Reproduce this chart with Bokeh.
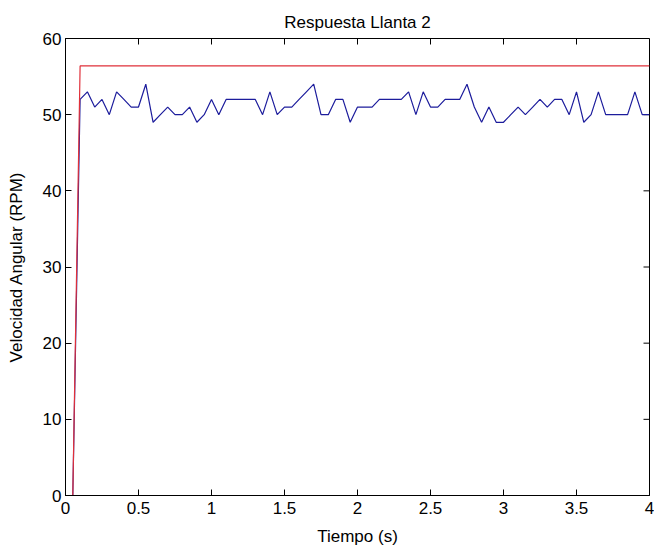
import math
from bokeh.plotting import figure
from bokeh.models import Range1d, FixedTicker, PrintfTickFormatter
from bokeh.embed import file_html
from bokeh.resources import INLINE

# ---- data ----
t_s = [0.00, 0.05, 0.10, 0.15, 0.20, 0.25, 0.30, 0.35, 0.40, 0.45, 0.50, 0.55,
       0.60, 0.65, 0.70, 0.75, 0.80, 0.85, 0.90, 0.95, 1.00, 1.05,
       1.10, 1.15, 1.20, 1.25, 1.30, 1.35, 1.40, 1.45, 1.50, 1.55,
       1.60, 1.65, 1.70, 1.75, 1.80, 1.85, 1.90, 1.95, 2.00, 2.05,
       2.10, 2.15, 2.20, 2.25, 2.30, 2.35, 2.40, 2.45, 2.50, 2.55,
       2.60, 2.65, 2.70, 2.75, 2.80, 2.85, 2.90, 2.95, 3.00, 3.05,
       3.10, 3.15, 3.20, 3.25, 3.30, 3.35, 3.40, 3.45, 3.50, 3.55,
       3.60, 3.65, 3.70, 3.75, 3.80, 3.85, 3.90, 3.95, 4.00]
rpm_measured = [0, 0,
                52, 53, 51, 52, 50, 53, 52, 51, 51, 54,
                49, 50, 51, 50, 50, 51, 49, 50, 52, 50,
                52, 52, 52, 52, 52, 50, 53, 50, 51, 51,
                52, 53, 54, 50, 50, 52, 52, 49, 51, 51,
                51, 52, 52, 52, 52, 53, 50, 53, 51, 51,
                52, 52, 52, 54, 51, 49, 51, 49, 49, 50,
                51, 50, 51, 52, 51, 52, 52, 50, 53, 49,
                50, 53, 50, 50, 50, 50, 53, 50, 50]
ref_t = [0.00, 0.05, 0.10, 4.00]
ref_rpm = [0, 0, 56.4, 56.4]

x_ticks = [0, 0.5, 1, 1.5, 2, 2.5, 3, 3.5, 4]
y_ticks = [0, 10, 20, 30, 40, 50, 60]

title_text = "Respuesta Llanta 2"
x_label = "Tiempo (s)"
y_label = "Velocidad Angular (RPM)"

FONT = "Liberation Sans"
FS = "17px"
X_MIN, X_MAX = 0, 4
Y_MIN, Y_MAX = 0, 60

p = figure(width=654, height=551, output_backend="svg", toolbar_location=None,
           x_range=Range1d(X_MIN, X_MAX), y_range=Range1d(Y_MIN, Y_MAX),
           min_border_left=65, min_border_right=5, min_border_top=38, min_border_bottom=56,
           background_fill_color="white", border_fill_color="white")

p.title.text = title_text
p.title.align = "center"
p.title.text_font = FONT
p.title.text_font_size = FS
p.title.text_font_style = "normal"
p.title.text_color = "black"
p.title.standoff = 14

p.xgrid.visible = False
p.ygrid.visible = False
p.outline_line_color = "black"
p.outline_line_width = 1

def style_axis(ax):
    ax.axis_line_color = "black"
    ax.major_tick_line_color = "black"
    ax.major_tick_in = 6
    ax.major_tick_out = 0
    ax.minor_tick_line_color = None
    ax.major_label_text_font = FONT
    ax.major_label_text_font_size = FS
    ax.major_label_text_color = "black"
    ax.axis_label_text_font = FONT
    ax.axis_label_text_font_size = FS
    ax.axis_label_text_font_style = "normal"
    ax.axis_label_text_color = "black"

xa = p.xaxis[0]
ya = p.yaxis[0]
xa.ticker = FixedTicker(ticks=x_ticks)
ya.ticker = FixedTicker(ticks=y_ticks)
xa.formatter = PrintfTickFormatter(format="%g")
style_axis(xa)
style_axis(ya)
xa.axis_label = x_label
ya.axis_label = y_label
xa.major_label_standoff = 6
xa.axis_label_standoff = 10
ya.major_label_standoff = 4
ya.axis_label_standoff = 14

# inward ticks along the top and right edges of the box (6 px, screen units)
p.ray(x=x_ticks, y=[Y_MAX] * len(x_ticks), length=6, length_units="screen",
      angle=-math.pi / 2, line_color="black", line_width=1)
p.ray(x=[X_MAX] * len(y_ticks), y=y_ticks, length=6, length_units="screen",
      angle=math.pi, line_color="black", line_width=1)

p.line(t_s, rpm_measured, line_color="#1c1c9c", line_width=1.2)
p.line(ref_t, ref_rpm, line_color="#e0303a", line_width=1.2)

open("out.html", "w").write(file_html(p, INLINE))
